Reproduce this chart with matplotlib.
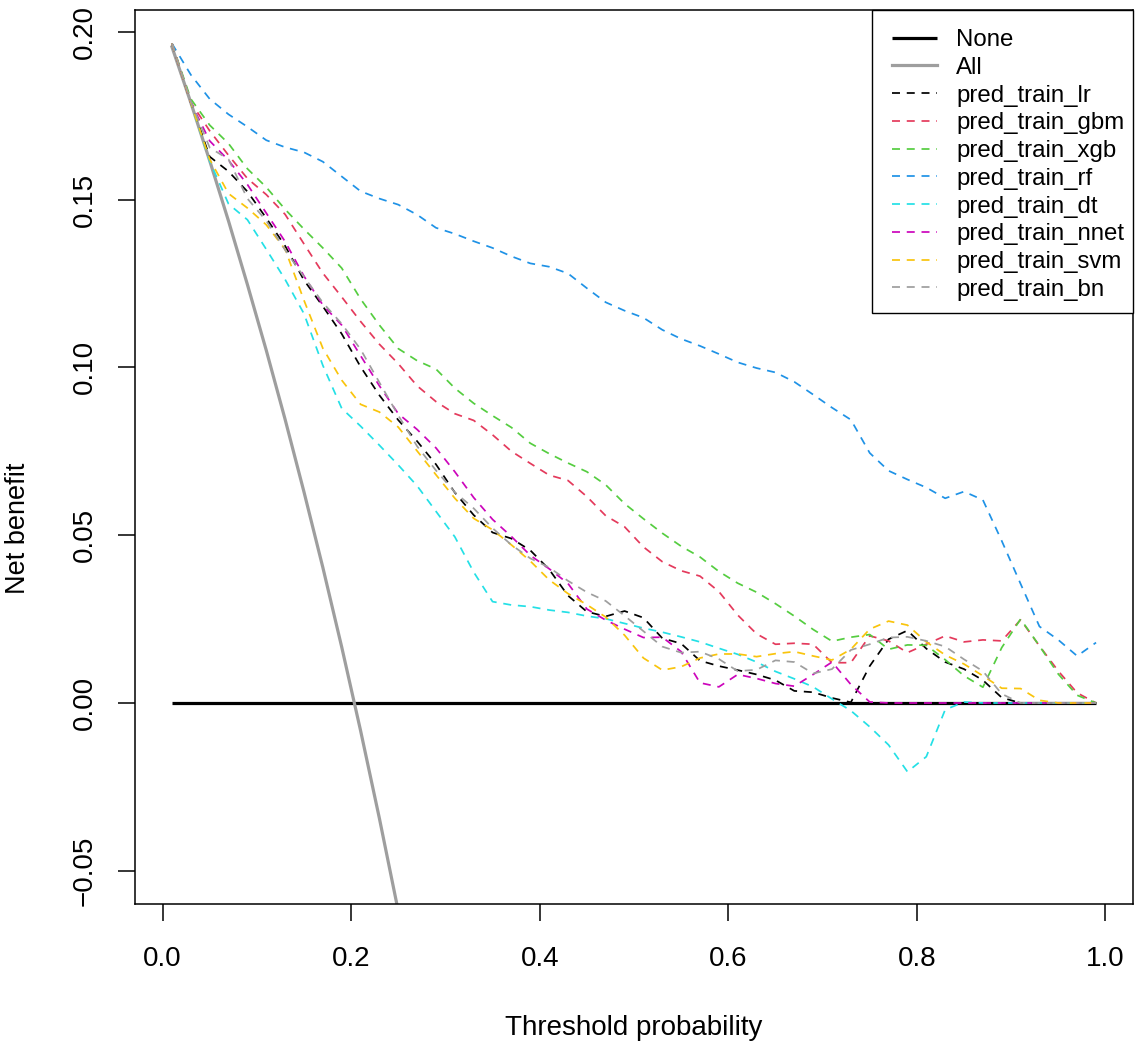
import matplotlib
matplotlib.use("Agg")
import matplotlib.pyplot as plt
from matplotlib.patches import Rectangle

plt.rcParams['font.family'] = ['Liberation Sans', 'DejaVu Sans']

# Threshold probabilities (x) for the model curves
thresholds = [0.01, 0.03, 0.05, 0.07, 0.09, 0.11, 0.13, 0.15, 0.17, 0.19,
              0.21, 0.23, 0.25, 0.27, 0.29, 0.31, 0.33, 0.35, 0.37, 0.39,
              0.41, 0.43, 0.45, 0.47, 0.49, 0.51, 0.53, 0.55, 0.57, 0.59,
              0.61, 0.63, 0.65, 0.67, 0.69, 0.71, 0.73, 0.75, 0.77, 0.79,
              0.81, 0.83, 0.85, 0.87, 0.89, 0.91, 0.93, 0.95, 0.97, 0.99]

# "Treat none" and "Treat all" reference strategies
none_x = [0.01, 0.99]
none_nb = [0.0, 0.0]
all_x = [0.01, 0.03, 0.05, 0.07, 0.09, 0.11, 0.13, 0.15, 0.17, 0.19, 0.21, 0.23, 0.25, 0.27]
all_nb = [0.1955, 0.1789, 0.1616, 0.1436, 0.1247, 0.1051, 0.0845, 0.0629, 0.0404,
          0.0167, -0.0082, -0.0344, -0.0620, -0.0911]

# Net benefit of each model
pred_train_lr = [0.1965, 0.1789, 0.1628, 0.1584, 0.1524, 0.1445, 0.1362, 0.1260, 0.1182, 0.1100,
                 0.1002, 0.0917, 0.0843, 0.0780, 0.0711, 0.0627, 0.0560, 0.0508, 0.0490, 0.0455,
                 0.0398, 0.0320, 0.0272, 0.0258, 0.0274, 0.0254, 0.0193, 0.0177, 0.0126, 0.0110,
                 0.0098, 0.0085, 0.0068, 0.0036, 0.0032, 0.0015, 0.0002, 0.0110, 0.0190, 0.0216,
                 0.0162, 0.0122, 0.0101, 0.0068, 0.0016, 0.0, 0.0, 0.0, 0.0, 0.0]
pred_train_gbm = [0.1965, 0.1790, 0.1705, 0.1632, 0.1563, 0.1515, 0.1456, 0.1368, 0.1281, 0.1210,
                  0.1137, 0.1069, 0.1011, 0.0945, 0.0898, 0.0862, 0.0842, 0.0799, 0.0750, 0.0714,
                  0.0679, 0.0663, 0.0615, 0.0558, 0.0525, 0.0465, 0.0421, 0.0394, 0.0378, 0.0332,
                  0.0262, 0.0206, 0.0175, 0.0178, 0.0175, 0.0120, 0.0120, 0.0200, 0.0185, 0.0150,
                  0.0175, 0.0200, 0.0182, 0.0188, 0.0185, 0.0248, 0.0170, 0.0095, 0.0030, 0.0]
pred_train_xgb = [0.1965, 0.1800, 0.1722, 0.1667, 0.1592, 0.1537, 0.1471, 0.1412, 0.1356, 0.1296,
                  0.1204, 0.1126, 0.1056, 0.1020, 0.0995, 0.0938, 0.0893, 0.0856, 0.0821, 0.0774,
                  0.0743, 0.0715, 0.0689, 0.0650, 0.0594, 0.0549, 0.0506, 0.0467, 0.0435, 0.0392,
                  0.0357, 0.0330, 0.0296, 0.0259, 0.0219, 0.0184, 0.0196, 0.0204, 0.0160, 0.0173,
                  0.0172, 0.0129, 0.0081, 0.0047, 0.0165, 0.0250, 0.0170, 0.0086, 0.0023, 0.0]
pred_train_rf = [0.1965, 0.1872, 0.1800, 0.1754, 0.1717, 0.1677, 0.1656, 0.1641, 0.1613, 0.1569,
                 0.1525, 0.1503, 0.1485, 0.1455, 0.1416, 0.1398, 0.1376, 0.1356, 0.1331, 0.1310,
                 0.1300, 0.1280, 0.1236, 0.1194, 0.1169, 0.1148, 0.1112, 0.1085, 0.1064, 0.1040,
                 0.1015, 0.0998, 0.0985, 0.0957, 0.0919, 0.0880, 0.0844, 0.0745, 0.0692, 0.0666,
                 0.0642, 0.0610, 0.0630, 0.0605, 0.0483, 0.0355, 0.0228, 0.0188, 0.0140, 0.0180]
pred_train_dt = [0.1965, 0.1789, 0.1615, 0.1487, 0.1440, 0.1352, 0.1262, 0.1160, 0.1006, 0.0878,
                 0.0825, 0.0768, 0.0709, 0.0647, 0.0571, 0.0495, 0.0390, 0.0302, 0.0292, 0.0287,
                 0.0277, 0.0270, 0.0259, 0.0251, 0.0237, 0.0223, 0.0211, 0.0197, 0.0182, 0.0163,
                 0.0145, 0.0122, 0.0094, 0.0072, 0.0048, 0.0012, -0.0023, -0.0071, -0.0125, -0.0205,
                 -0.0160, -0.0020, 0.0003, 0.0, 0.0, 0.0, 0.0, 0.0, 0.0, 0.0]
pred_train_nnet = [0.1965, 0.1789, 0.1675, 0.1617, 0.1545, 0.1460, 0.1375, 0.1272, 0.1186, 0.1126,
                   0.1035, 0.0945, 0.0862, 0.0815, 0.0760, 0.0689, 0.0612, 0.0547, 0.0496, 0.0440,
                   0.0400, 0.0356, 0.0280, 0.0247, 0.0220, 0.0195, 0.0196, 0.0153, 0.0060, 0.0048,
                   0.0085, 0.0073, 0.0058, 0.0050, 0.0085, 0.0122, 0.0055, 0.0003, 0.0, 0.0,
                   0.0, 0.0, 0.0, 0.0, 0.0, 0.0, 0.0, 0.0, 0.0, 0.0]
pred_train_svm = [0.1965, 0.1789, 0.1620, 0.1518, 0.1475, 0.1425, 0.1352, 0.1200, 0.1057, 0.0962,
                  0.0890, 0.0867, 0.0822, 0.0751, 0.0680, 0.0610, 0.0550, 0.0516, 0.0471, 0.0423,
                  0.0367, 0.0326, 0.0293, 0.0256, 0.0202, 0.0134, 0.0098, 0.0108, 0.0134, 0.0146,
                  0.0146, 0.0138, 0.0147, 0.0153, 0.0140, 0.0128, 0.0160, 0.0220, 0.0244, 0.0232,
                  0.0182, 0.0143, 0.0116, 0.0081, 0.0044, 0.0043, 0.0008, 0.0, 0.0, 0.0]
pred_train_bn = [0.1965, 0.1792, 0.1655, 0.1620, 0.1503, 0.1437, 0.1350, 0.1270, 0.1193, 0.1130,
                 0.1054, 0.0955, 0.0857, 0.0765, 0.0693, 0.0628, 0.0580, 0.0521, 0.0471, 0.0431,
                 0.0404, 0.0364, 0.0330, 0.0304, 0.0260, 0.0214, 0.0168, 0.0150, 0.0153, 0.0131,
                 0.0095, 0.0099, 0.0127, 0.0122, 0.0088, 0.0101, 0.0158, 0.0175, 0.0195, 0.0197,
                 0.0185, 0.0168, 0.0130, 0.0095, 0.0027, 0.0, 0.0, 0.0, 0.0, 0.0]

model_names = ["pred_train_lr", "pred_train_gbm", "pred_train_xgb", "pred_train_rf",
               "pred_train_dt", "pred_train_nnet", "pred_train_svm", "pred_train_bn"]
model_values = [pred_train_lr, pred_train_gbm, pred_train_xgb, pred_train_rf,
                pred_train_dt, pred_train_nnet, pred_train_svm, pred_train_bn]
model_colors = ["#000000", "#E43A5C", "#55CD40", "#1F92E6",
                "#24E0E6", "#CC05BB", "#F9C40C", "#9E9E9E"]

x_ticks = [0.0, 0.2, 0.4, 0.6, 0.8, 1.0]
x_tick_labels = ["0.0", "0.2", "0.4", "0.6", "0.8", "1.0"]
y_ticks = [-0.05, 0.0, 0.05, 0.10, 0.15, 0.20]
y_tick_labels = ["\u22120.05", "0.00", "0.05", "0.10", "0.15", "0.20"]

W, H = 1138, 1046
fig = plt.figure(figsize=(W / 100, H / 100), dpi=100)
AX_L, AX_R, AX_T, AX_B = 135, 1133, 10, 904
ax = fig.add_axes([AX_L / W, 1 - AX_B / H, (AX_R - AX_L) / W, (AX_B - AX_T) / H])


def ax_x(px):
    return (px - AX_L) / (AX_R - AX_L)


def ax_y(py):
    return (AX_B - py) / (AX_B - AX_T)


ax.plot(none_x, none_nb, color="black", lw=2.3, label="None", solid_capstyle="butt")
ax.plot(all_x, all_nb, color="#9E9E9E", lw=2.3, label="All")
for name, vals, col in zip(model_names, model_values, model_colors):
    ax.plot(thresholds, vals, color=col, lw=1.25, linestyle=(0, (4.6, 3.9)), label=name)

ax.set_xlim(-0.0292, 1.0292)
ax.set_ylim(-0.0599, 0.2065)

ax.set_xticks(x_ticks)
ax.set_xticklabels(x_tick_labels)
ax.set_yticks(y_ticks)
ax.set_yticklabels(y_tick_labels)
ax.tick_params(axis="both", direction="out", length=12, width=1.1, labelsize=20)
ax.tick_params(axis="x", pad=18)
ax.tick_params(axis="y", pad=15)
for lab in ax.get_yticklabels():
    lab.set_rotation(90)
    lab.set_va("center")
    lab.set_ha("right")
for sp in ax.spines.values():
    sp.set_linewidth(1.1)

ax.set_xlabel("Threshold probability", fontsize=20)
ax.xaxis.set_label_coords(0.5, ax_y(1028))
ax.xaxis.label.set_va("center")
ax.set_ylabel("Net benefit", fontsize=19.5)
ax.yaxis.set_label_coords(ax_x(18), ax_y(528))
ax.yaxis.label.set_va("center")

# legend box (R style: square, touching the top-right corner of the plot)
box = Rectangle((ax_x(872), ax_y(313)), ax_x(1133) - ax_x(872), ax_y(10) - ax_y(313),
                transform=ax.transAxes, facecolor="white", edgecolor="black",
                lw=1.0, zorder=4, clip_on=False)
ax.add_patch(box)
leg = ax.legend(loc="upper left", bbox_to_anchor=(ax_x(892), ax_y(29)), borderaxespad=0,
                fontsize=17.3, frameon=False, handlelength=1.875, handletextpad=0.79,
                borderpad=0, labelspacing=0.24)
leg.set_zorder(5)

fig.savefig("out.png", dpi=100)
